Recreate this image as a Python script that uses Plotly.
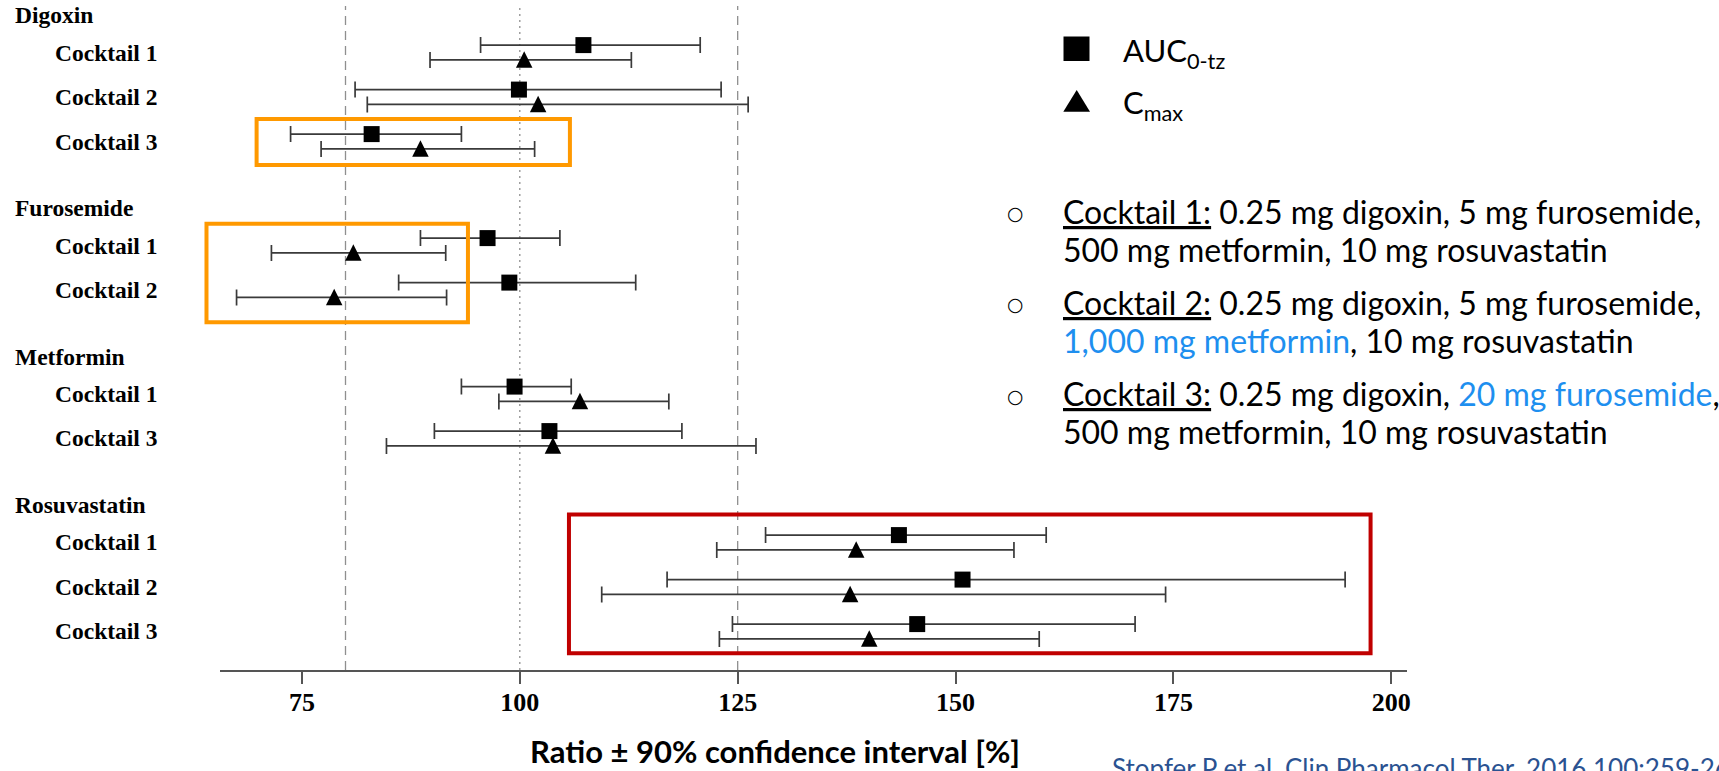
import plotly.graph_objects as go

# ---------------- data ----------------
drugs = ["Digoxin", "Furosemide", "Metformin", "Rosuvastatin"]
row_drug = [0, 0, 0, 1, 1, 2, 2, 3, 3, 3]
row_cocktail = ["Cocktail 1", "Cocktail 2", "Cocktail 3",
                "Cocktail 1", "Cocktail 2",
                "Cocktail 1", "Cocktail 3",
                "Cocktail 1", "Cocktail 2", "Cocktail 3"]

auc_ratio = [107.3, 99.9, 83.0, 96.3, 98.8, 99.4, 103.4, 143.5, 150.8, 145.6]
auc_lower = [95.5, 81.1, 73.7, 88.6, 86.1, 93.3, 90.2, 128.2, 116.9, 124.4]
auc_upper = [120.7, 123.1, 93.3, 104.6, 113.3, 105.9, 118.6, 160.4, 194.7, 170.6]

cmax_ratio = [100.5, 102.1, 88.6, 80.9, 78.7, 106.9, 103.8, 138.6, 137.9, 140.1]
cmax_lower = [89.7, 82.5, 77.2, 71.5, 67.5, 97.6, 84.7, 122.6, 109.4, 122.9]
cmax_upper = [112.8, 126.2, 101.7, 91.5, 91.6, 117.1, 127.1, 156.7, 174.1, 159.6]

x_ticks = [75, 100, 125, 150, 175, 200]
ref_lines = [80, 100, 125]

legend_labels = ["AUC<sub>0-tz</sub>", "C<sub>max</sub>"]

desc_lines = [
    "<u>Cocktail 1:</u> 0.25 mg digoxin, 5 mg furosemide,",
    "500 mg metformin, 10 mg rosuvastatin",
    "<u>Cocktail 2:</u> 0.25 mg digoxin, 5 mg furosemide,",
    "<span style='color:#1E8FEF'>1,000 mg metformin</span>, 10 mg rosuvastatin",
    "<u>Cocktail 3:</u> 0.25 mg digoxin, <span style='color:#1E8FEF'>20 mg furosemide</span>,",
    "500 mg metformin, 10 mg rosuvastatin",
]
citation = "Stopfer P et al. Clin Pharmacol Ther. 2016 100:259-267"

# ---------------- layout constants ----------------
W_PX, H_PX = 1719, 771
ML, MR, MT, MB = 220, 312, 6, 101
PLOT_W = W_PX - ML - MR
PLOT_H = H_PX - MT - MB
X_RANGE = [65.6, 201.8]
ROW_PX = 44.5
FIRST_ROW_PX = 52.5
GROUP_GAP = 1.337
PAIR_OFF = 7.4 / ROW_PX
Y_TOP = (MT - FIRST_ROW_PX) / ROW_PX
Y_BOT = (H_PX - MB - FIRST_ROW_PX) / ROW_PX


def px2x(px):
    return (px - ML) / PLOT_W


def py2y(py):
    return 1 - (py - MT) / PLOT_H


def v2x(v):
    return (v - X_RANGE[0]) / (X_RANGE[1] - X_RANGE[0])


def u2y(u):
    return (Y_BOT - u) / (Y_BOT - Y_TOP)


row_pos = [i + g * GROUP_GAP for i, g in enumerate(row_drug)]
auc_y = [p - PAIR_OFF for p in row_pos]
cmax_y = [p + PAIR_OFF for p in row_pos]
TRI_SIZE = 16.5
cmax_marker_y = [p - (TRI_SIZE / 2 + 0.3) / ROW_PX for p in cmax_y]

ERR_COLOR = "#3a3a3a"

fig = go.Figure()

# AUC
fig.add_trace(go.Scatter(
    x=auc_ratio, y=auc_y, mode="markers",
    marker=dict(symbol="square", size=16, color="black"),
    error_x=dict(type="data", symmetric=False,
                 array=[u - r for u, r in zip(auc_upper, auc_ratio)],
                 arrayminus=[r - l for r, l in zip(auc_ratio, auc_lower)],
                 color=ERR_COLOR, thickness=1.7, width=8),
    showlegend=False, hoverinfo="skip"))

# Cmax error bars
fig.add_trace(go.Scatter(
    x=cmax_ratio, y=cmax_y, mode="markers",
    marker=dict(size=2, color="rgba(0,0,0,0)"),
    error_x=dict(type="data", symmetric=False,
                 array=[u - r for u, r in zip(cmax_upper, cmax_ratio)],
                 arrayminus=[r - l for r, l in zip(cmax_ratio, cmax_lower)],
                 color=ERR_COLOR, thickness=1.7, width=8),
    showlegend=False, hoverinfo="skip"))

# Cmax markers
fig.add_trace(go.Scatter(
    x=cmax_ratio, y=cmax_marker_y, mode="markers",
    marker=dict(symbol="arrow-up", size=TRI_SIZE, color="black", line=dict(width=0)),
    showlegend=False, hoverinfo="skip"))

shapes = []
for v in ref_lines:
    shapes.append(dict(type="line", xref="x", yref="paper", x0=v, x1=v, y0=0, y1=1,
                       line=dict(color="#8f8f8f", width=1.3,
                                 dash="2px,4px" if v == 100 else "9px,6px"),
                       layer="below"))

# highlight boxes (ratio range, row-unit range)
boxes = [
    (69.8, 105.75, row_pos[2] - 0.506, row_pos[2] + 0.528, "#FF9900"),
    (64.05, 94.05, row_pos[3] - 0.49, row_pos[4] + 0.726, "#FF9900"),
    (105.64, 197.62, row_pos[7] - 0.63, row_pos[9] + 0.49, "#C00000"),
]
for x0, x1, y0, y1, c in boxes:
    shapes.append(dict(type="rect", xref="paper", yref="paper",
                       x0=v2x(x0), x1=v2x(x1), y0=u2y(y0), y1=u2y(y1),
                       line=dict(color=c, width=4), fillcolor="rgba(0,0,0,0)"))

# legend symbols
shapes.append(dict(type="rect", xref="paper", yref="paper",
                   x0=px2x(1063.5), x1=px2x(1089.5), y0=py2y(36.5), y1=py2y(61),
                   line=dict(width=0), fillcolor="black"))
tri = [(1063.3, 111.7), (1090.0, 111.7), (1076.7, 90.0)]
path = "M {} {} L {} {} L {} {} Z".format(*[c for p in tri for c in (px2x(p[0]), py2y(p[1]))])
shapes.append(dict(type="path", xref="paper", yref="paper", path=path,
                   line=dict(width=0), fillcolor="black"))

annotations = []
serif = "Liberation Serif, Times New Roman, serif"
sans = "Lato, Open Sans, sans-serif"

for g, name in enumerate(drugs):
    first = row_drug.index(g)
    annotations.append(dict(text=name, xref="paper", yref="y", x=px2x(12.7),
                            y=row_pos[first] - 0.84, xanchor="left", yanchor="middle",
                            showarrow=False,
                            font=dict(family=serif, size=23.5, color="black", weight="bold")))
for p, lab in zip(row_pos, row_cocktail):
    annotations.append(dict(text=lab, xref="paper", yref="y", x=px2x(53.3),
                            y=p, xanchor="left", yanchor="middle", showarrow=False,
                            font=dict(family=serif, size=23.5, color="black", weight="bold")))

annotations.append(dict(text="Ratio ± 90% confidence interval [%]", xref="paper", yref="paper",
                        x=px2x(774.5), y=py2y(750.5), xanchor="center", yanchor="middle",
                        showarrow=False,
                        font=dict(family=sans, size=31, color="black", weight="bold")))

for lab, py in zip(legend_labels, [53, 105]):
    annotations.append(dict(text=lab, xref="paper", yref="paper", x=px2x(1121),
                            y=py2y(py), xanchor="left", yanchor="middle", showarrow=False,
                            font=dict(family=sans, size=31, color="black")))

desc_y_px = [211, 249.2, 302.5, 340.7, 393.5, 431.7]
for txt, py in zip(desc_lines, desc_y_px):
    annotations.append(dict(text=txt, xref="paper", yref="paper", x=px2x(1061),
                            y=py2y(py), xanchor="left", yanchor="middle", showarrow=False,
                            font=dict(family=sans, size=32, color="black")))
for py in desc_y_px[0::2]:
    annotations.append(dict(text="○", xref="paper", yref="paper", x=px2x(1015),
                            y=py2y(py + 2), xanchor="center", yanchor="middle", showarrow=False,
                            font=dict(family="DejaVu Sans, sans-serif", size=19, color="black")))

annotations.append(dict(text=citation, xref="paper", yref="paper", x=px2x(1110),
                        y=py2y(768), xanchor="left", yanchor="middle", showarrow=False,
                        font=dict(family=sans, size=26, color="#2a5291")))

fig.update_layout(
    width=W_PX, height=H_PX,
    margin=dict(l=ML, r=MR, t=MT, b=MB, pad=0),
    paper_bgcolor="white", plot_bgcolor="white",
    showlegend=False,
    xaxis=dict(range=X_RANGE, tickvals=x_ticks, ticktext=[str(t) for t in x_ticks],
               showgrid=False, zeroline=False, showline=True, linecolor="#555555",
               linewidth=2, ticks="outside", ticklen=12, tickwidth=2, tickcolor="#555555",
               ticklabelstandoff=-4,
               tickfont=dict(family=serif, size=26, color="black", weight="bold"),
               fixedrange=True),
    yaxis=dict(range=[Y_BOT, Y_TOP], visible=False, showgrid=False, zeroline=False,
               fixedrange=True),
    shapes=shapes,
    annotations=annotations,
)

fig.write_html("out.html", config={"displayModeBar": False},
               post_script="document.body.style.margin='0';document.body.style.overflow='hidden';")
